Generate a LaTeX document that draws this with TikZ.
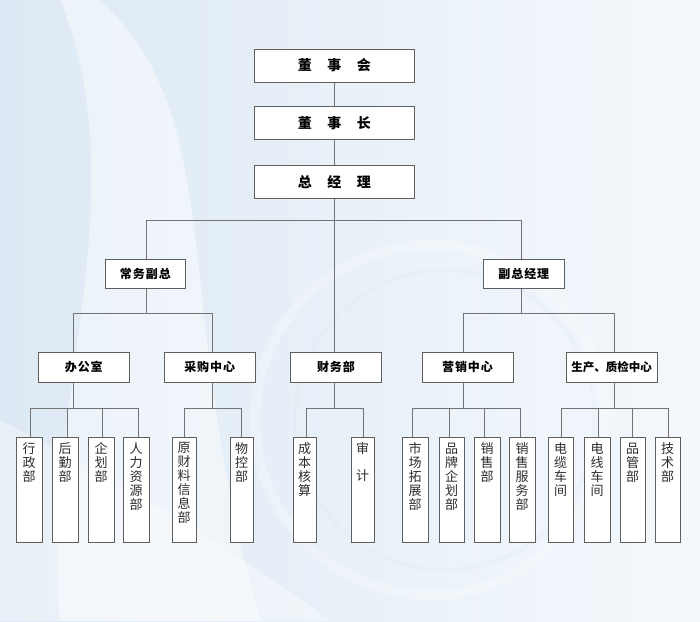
\documentclass[tikz,border=0pt]{standalone}
\usepackage{fontspec}
\newfontfamily\cjk{Noto Sans CJK SC}
\newfontfamily\cjkls{Noto Sans CJK SC}[LetterSpace=8]
\definecolor{bgL}{RGB}{221,233,244}
\definecolor{bgR}{RGB}{244,248,252}
\definecolor{boxgray}{RGB}{95,95,95}
\definecolor{linegray}{RGB}{115,115,115}
\definecolor{leaftxt}{RGB}{45,45,45}
\begin{document}
\begin{tikzpicture}[x=1pt,y=-1pt,
  box/.style={draw=boxgray,fill=white,line width=0.9pt,inner sep=0pt},
  topbox/.style={box,minimum width=160.7pt,minimum height=33.3pt,font=\cjk\bfseries\fontsize{14}{16}\selectfont,text=black},
  midbox/.style={box,minimum width=80.7pt,minimum height=29.3pt,font=\cjkls\bfseries\fontsize{12}{14}\selectfont,text=black},
  deptbox/.style={box,minimum width=91pt,minimum height=29.3pt,font=\cjkls\bfseries\fontsize{12}{14}\selectfont,text=black},
  leafbox/.style={box,minimum width=26pt,minimum height=105pt},
  leaftext/.style={anchor=north,yshift=-6pt,align=center,inner sep=0pt,text=leaftxt,font=\cjk\fontsize{13}{14}\selectfont},
  link/.style={draw=linegray,line width=0.8pt}]
\useasboundingbox (0,0) rectangle (700,621);
% background
\fill[left color=bgL,right color=bgR] (0,0) rectangle (700,621);
\fill[white,opacity=0.45] (100,0) .. controls (230,120) and (170,300) .. (260,621) -- (60,621) .. controls (40,400) and (140,200) .. (60,0) -- cycle;
\fill[white,opacity=0.35] (0,420) .. controls (120,480) and (250,560) .. (330,621) -- (0,621) -- cycle;
\draw[white,opacity=0.25,line width=10pt] (430,420) circle (175);
\draw[bgL,opacity=0.25,line width=4pt] (445,420) circle (150);
% top chain
\node[topbox] (n1) at (334.3,65.6) {董\hspace{15.5pt}事\hspace{15.5pt}会};
\node[topbox] (n2) at (334.3,122.7) {董\hspace{15.5pt}事\hspace{15.5pt}长};
\node[topbox] (n3) at (334.3,181.7) {总\hspace{15.5pt}经\hspace{15.5pt}理};
% second level
\node[midbox] (cg) at (145.4,273.7) {常务副总};
\node[midbox] (fz) at (523.8,273.7) {副总经理};
% third level
\node[deptbox] (bgs) at (83.8,367.3) {办公室};
\node[deptbox] (cgz) at (209.7,367.3) {采购中心};
\node[deptbox] (cw)  at (336,367.3) {财务部};
\node[deptbox] (yx)  at (467.5,367.3) {营销中心};
\node[deptbox,font=\cjk\bfseries\fontsize{11.5}{14}\selectfont] (sc) at (611.5,367.3) {生产、质检中心};
% leaves
\node[leafbox,label={[leaftext]north:{行\\政\\部}}] (l1) at (29,489.5) {};
\node[leafbox,label={[leaftext]north:{后\\勤\\部}}] (l2) at (65,489.5) {};
\node[leafbox,label={[leaftext]north:{企\\划\\部}}] (l3) at (101,489.5) {};
\node[leafbox,label={[leaftext]north:{人\\力\\资\\源\\部}}] (l4) at (136,489.5) {};
\node[leafbox,minimum width=24pt,label={[leaftext]north:{原\\财\\料\\信\\息\\部}}] (l5) at (184,489.5) {};
\node[leafbox,minimum width=23pt,label={[leaftext]north:{物\\控\\部}}] (l6) at (241.5,489.5) {};
\node[leafbox,minimum width=23pt,label={[leaftext]north:{成\\本\\核\\算}}] (l7) at (304.5,489.5) {};
\node[leafbox,minimum width=23pt,label={[leaftext]north:{审\\[13pt]计}}] (l8) at (362.5,489.5) {};
\node[leafbox,label={[leaftext]north:{市\\场\\拓\\展\\部}}] (l9) at (415,489.5) {};
\node[leafbox,minimum width=25pt,label={[leaftext]north:{品\\牌\\企\\划\\部}}] (l10) at (451.5,489.5) {};
\node[leafbox,label={[leaftext]north:{销\\售\\部}}] (l11) at (487,489.5) {};
\node[leafbox,label={[leaftext]north:{销\\售\\服\\务\\部}}] (l12) at (522,489.5) {};
\node[leafbox,minimum width=25pt,label={[leaftext]north:{电\\缆\\车\\间}}] (l13) at (560.5,489.5) {};
\node[leafbox,label={[leaftext]north:{电\\线\\车\\间}}] (l14) at (597,489.5) {};
\node[leafbox,minimum width=25pt,label={[leaftext]north:{品\\管\\部}}] (l15) at (632.5,489.5) {};
\node[leafbox,minimum width=25pt,label={[leaftext]north:{技\\术\\部}}] (l16) at (667.5,489.5) {};
% connectors: top
\draw[link] (n1.south) -- (n2.north);
\draw[link] (n2.south) -- (n3.north);
\draw[link] (n3.south) -- (n3.south |- cw.north);
\coordinate (r1) at (146,220.7);
\coordinate (r2) at (521,220.7);
\draw[link] (r1 |- cg.north) -- (r1) -- (r2) -- (r2 |- fz.north);
% second to third
\coordinate (q1) at (73.3,313.3);
\coordinate (q2) at (212.7,313.3);
\coordinate (q0) at (146,313.3);
\draw[link] (q1 |- bgs.north) -- (q1) -- (q2) -- (q2 |- cgz.north);
\draw[link] (q0 |- cg.south) -- (q0);
\coordinate (q3) at (463.3,313.3);
\coordinate (q4) at (614,313.3);
\coordinate (q5) at (521,313.3);
\draw[link] (q3 |- yx.north) -- (q3) -- (q4) -- (q4 |- sc.north);
\draw[link] (q5 |- fz.south) -- (q5);
% third to leaves
\foreach \n/\x in {l1/30.7,l2/67.7,l3/102,l4/138,l5/184,l6/241,l7/306,l8/363,l9/412,l10/449,l11/484,l12/520,l13/561,l14/598,l15/632,l16/668}{
  \coordinate (t\n) at (\x,408);
  \draw[link] (t\n) -- (t\n |- \n.north);
}
\draw[link] (tl1) -- (tl4);
\draw[link] (tl5) -- (tl6);
\draw[link] (tl7) -- (tl8);
\draw[link] (tl9) -- (tl12);
\draw[link] (tl13) -- (tl16);
\coordinate (p1) at (73.3,408);
\coordinate (p2) at (212.7,408);
\coordinate (p3) at (334.3,408);
\coordinate (p4) at (463.3,408);
\coordinate (p5) at (614,408);
\draw[link] (p1 |- bgs.south) -- (p1);
\draw[link] (p2 |- cgz.south) -- (p2);
\draw[link] (p3 |- cw.south) -- (p3);
\draw[link] (p4 |- yx.south) -- (p4);
\draw[link] (p5 |- sc.south) -- (p5);
\end{tikzpicture}
\end{document}
